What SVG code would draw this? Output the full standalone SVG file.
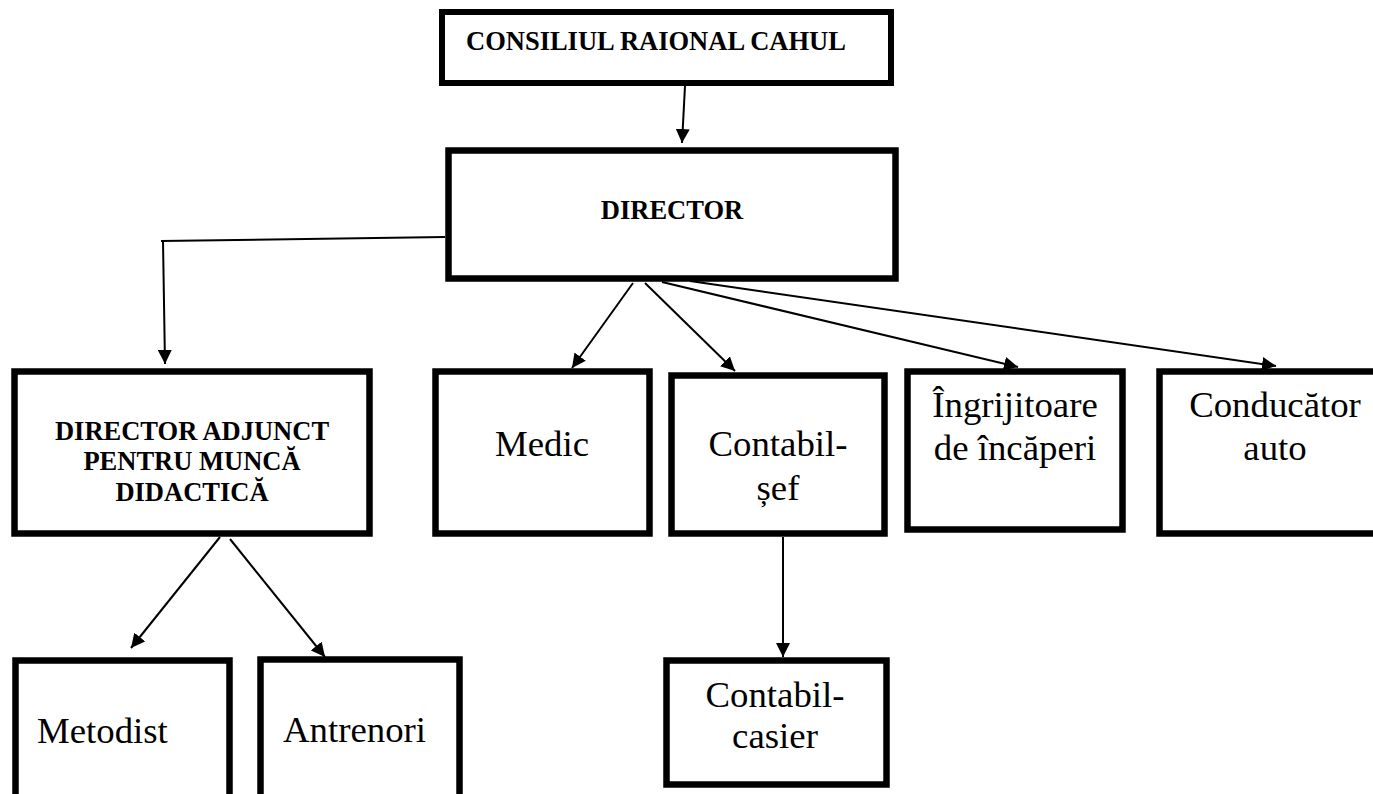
<svg xmlns="http://www.w3.org/2000/svg" width="1373" height="794" viewBox="0 0 1373 794">
<style>
.box{fill:#fff;stroke:#000;stroke-width:6.5}
.b{font-family:'Liberation Serif','Times New Roman',Times,serif;font-weight:700;font-size:26.5px;fill:#000}
.r{font-family:'Liberation Serif','Times New Roman',Times,serif;font-weight:400;font-size:36.8px;fill:#000}
.c{stroke:#000;stroke-width:2;fill:none;marker-end:url(#ah)}
</style>
<defs>
<marker id="ah" viewBox="0 0 14 14" refX="14" refY="7" markerWidth="14" markerHeight="14" markerUnits="userSpaceOnUse" orient="auto">
<path d="M0,0 L14,7 L0,14 z" fill="#000"/>
</marker>
</defs>
<rect width="1373" height="794" fill="#fff"/>
<g id="connectors">
<line class="c" x1="685" y1="86" x2="682" y2="143"/>
<polyline points="445,237 161,241" stroke="#000" stroke-width="2" fill="none"/>
<line class="c" x1="163" y1="241" x2="165" y2="364"/>
<line class="c" x1="633" y1="283" x2="572" y2="368"/>
<line class="c" x1="645" y1="283" x2="735" y2="371"/>
<line class="c" x1="662" y1="282" x2="1018" y2="367"/>
<line class="c" x1="690" y1="281" x2="1276" y2="366"/>
<line class="c" x1="220" y1="537" x2="131" y2="648"/>
<line class="c" x1="230" y1="539" x2="325" y2="657"/>
<line class="c" x1="783" y1="537" x2="783" y2="657"/>
</g>
<g id="consiliul">
<rect class="box" x="442" y="12" width="449" height="71" style="stroke-width:6"/>
<text class="b" x="466" y="50">CONSILIUL RAIONAL CAHUL</text>
</g>
<g id="director">
<rect class="box" x="448.5" y="150.5" width="447" height="128"/>
<text class="b" x="672" y="219" text-anchor="middle">DIRECTOR</text>
</g>
<g id="director-adjunct">
<rect class="box" x="14.5" y="371.5" width="355" height="162"/>
<text class="b" text-anchor="middle"><tspan x="192" y="440">DIRECTOR ADJUNCT</tspan><tspan x="192" y="470">PENTRU MUNCĂ</tspan><tspan x="192" y="501">DIDACTICĂ</tspan></text>
</g>
<g id="medic">
<rect class="box" x="435.5" y="371.5" width="214" height="162"/>
<text class="r" x="542" y="456" text-anchor="middle">Medic</text>
</g>
<g id="contabil-sef">
<rect class="box" x="671.5" y="375.5" width="213" height="158"/>
<text class="r" text-anchor="middle"><tspan x="778" y="456">Contabil-</tspan><tspan x="778" y="500">șef</tspan></text>
</g>
<g id="ingrijitoare">
<rect class="box" x="907.5" y="371.5" width="215" height="158"/>
<text class="r" text-anchor="middle"><tspan x="1015" y="417">Îngrijitoare</tspan><tspan x="1015" y="460">de încăperi</tspan></text>
</g>
<g id="conducator">
<rect class="box" x="1159.5" y="371.5" width="232" height="162"/>
<text class="r" text-anchor="middle"><tspan x="1275" y="417">Conducător</tspan><tspan x="1275" y="460">auto</tspan></text>
</g>
<g id="metodist">
<rect class="box" x="15.5" y="660.5" width="214" height="200"/>
<text class="r" x="37" y="743">Metodist</text>
</g>
<g id="antrenori">
<rect class="box" x="260.5" y="659.5" width="199" height="200"/>
<text class="r" x="283" y="742">Antrenori</text>
</g>
<g id="contabil-casier">
<rect class="box" x="666.5" y="660.5" width="220" height="124"/>
<text class="r" text-anchor="middle"><tspan x="775" y="707">Contabil-</tspan><tspan x="775" y="748">casier</tspan></text>
</g>
</svg>
